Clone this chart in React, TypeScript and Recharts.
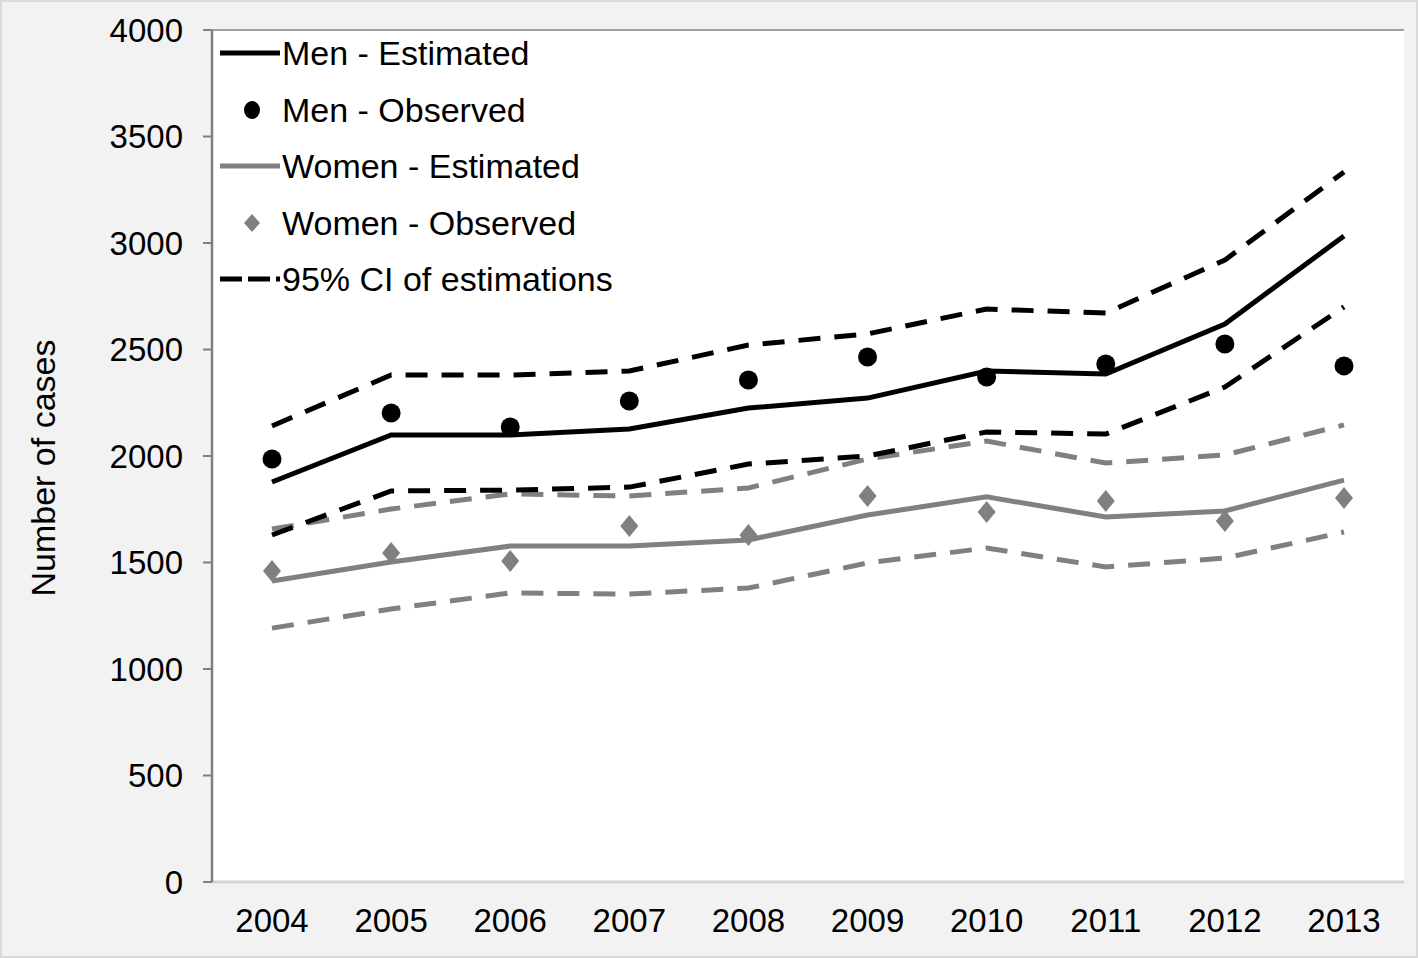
import React from "react";
import {
  CartesianGrid,
  Label,
  Legend,
  Line,
  LineChart,
  ReferenceLine,
  XAxis,
  YAxis
} from "recharts";

const FONT = '"Liberation Sans", Arial, sans-serif';

const years = ["2004", "2005", "2006", "2007", "2008", "2009", "2010", "2011", "2012", "2013"];
const menEstimated = [1878, 2099, 2099, 2127, 2225, 2272, 2399, 2385, 2620, 3033];
const menObserved = [1986, 2202, 2136, 2258, 2357, 2465, 2371, 2432, 2526, 2423];
const menUpper = [2141, 2380, 2380, 2399, 2521, 2573, 2690, 2671, 2920, 3333];
const menLower = [1629, 1836, 1840, 1854, 1962, 2000, 2113, 2103, 2324, 2700];
const womenEstimated = [1413, 1502, 1577, 1577, 1606, 1723, 1808, 1714, 1742, 1887];
const womenObserved = [1460, 1545, 1507, 1671, 1629, 1812, 1737, 1789, 1695, 1803];
const womenUpper = [1657, 1751, 1822, 1812, 1850, 1986, 2070, 1967, 2005, 2146];
const womenLower = [1192, 1282, 1357, 1352, 1380, 1498, 1568, 1479, 1521, 1643];
const yTicks = [0, 500, 1000, 1500, 2000, 2500, 3000, 3500, 4000];

const legendItems = [
  { label: "Men - Estimated", kind: "line", color: "#000" },
  { label: "Men - Observed", kind: "dot", color: "#000" },
  { label: "Women - Estimated", kind: "line", color: "#808080" },
  { label: "Women - Observed", kind: "diamond", color: "#808080" },
  { label: "95% CI of estimations", kind: "dash", color: "#000" }
];

const rows = years.map((year, i) => ({
  year,
  menEst: menEstimated[i],
  menObs: menObserved[i],
  menUp: menUpper[i],
  menLo: menLower[i],
  womenEst: womenEstimated[i],
  womenObs: womenObserved[i],
  womenUp: womenUpper[i],
  womenLo: womenLower[i]
}));

const DiamondDot = (props: any) => {
  const { cx, cy } = props;
  if (cx == null || cy == null) return null;
  return (
    <polygon
      points={`${cx},${cy - 11} ${cx + 9},${cy} ${cx},${cy + 11} ${cx - 9},${cy}`}
      fill="#808080"
    />
  );
};

const LegendIcon = ({ kind, color }: { kind: string; color: string }) => (
  <svg width={62} height={24} style={{ flex: "none" }}>
    {kind === "line" && <line x1={0} y1={12} x2={60} y2={12} stroke={color} strokeWidth={5} />}
    {kind === "dash" && (
      <line x1={0} y1={12} x2={60} y2={12} stroke={color} strokeWidth={5} strokeDasharray="22 6" />
    )}
    {kind === "dot" && <ellipse cx={32} cy={12} rx={8} ry={9} fill={color} />}
    {kind === "diamond" && <polygon points="32,3 40,12 32,21 24,12" fill={color} />}
  </svg>
);

const renderLegend = () => (
  <div style={{ fontFamily: FONT }}>
    {legendItems.map((item) => (
      <div key={item.label} style={{ display: "flex", alignItems: "center", height: 56.5 }}>
        <LegendIcon kind={item.kind} color={item.color} />
        <span style={{ fontSize: 34, lineHeight: 1, color: "#000", whiteSpace: "nowrap" }}>
          {item.label}
        </span>
      </div>
    ))}
  </div>
);

const YTitle = (props: any) => {
  const { viewBox } = props;
  const cy = viewBox.y + viewBox.height / 2 + 12;
  return (
    <text
      x={55}
      y={cy}
      transform={`rotate(-90, 55, ${cy})`}
      textAnchor="middle"
      fontSize={34}
      fontFamily={FONT}
      fill="#000"
    >
      Number of cases
    </text>
  );
};

const App = () => (
  <div
    style={{
      position: "absolute",
      left: 0,
      top: 0,
      width: 1418,
      height: 958,
      background: "#f2f2f2",
      boxShadow: "inset 0 0 0 2px #dadada"
    }}
  >
    <LineChart width={1418} height={958} data={rows} margin={{ top: 30, right: 14, bottom: 0, left: 0 }}>
      <CartesianGrid horizontal={false} vertical={false} fill="#ffffff" />
      <XAxis
        dataKey="year"
        padding={{ left: 60, right: 60 }}
        interval={0}
        height={76}
        tickLine={false}
        tickSize={0}
        tickMargin={27}
        axisLine={{ stroke: "#d4d4d4", strokeWidth: 3 }}
        tick={{ fill: "#000", fontSize: 33, fontFamily: FONT }}
      />
      <YAxis
        domain={[0, 4000]}
        ticks={yTicks}
        width={212}
        tickSize={9}
        tickMargin={20}
        axisLine={{ stroke: "#808080", strokeWidth: 2.5 }}
        tickLine={{ stroke: "#808080", strokeWidth: 2 }}
        tick={{ fill: "#000", fontSize: 33, fontFamily: FONT }}
      >
        <Label content={<YTitle />} />
      </YAxis>
      <YAxis
        yAxisId="frame"
        orientation="right"
        width={0}
        tick={false}
        tickLine={false}
        axisLine={{ stroke: "#8a8a8a", strokeWidth: 2.5 }}
      />
      <ReferenceLine y={4000} stroke="#a0a0a0" strokeWidth={2} />
      <Legend
        content={renderLegend}
        layout="vertical"
        align="center"
        verticalAlign="middle"
        wrapperStyle={{ left: 220, top: 25, width: "auto" }}
      />

      <Line dataKey="womenUp" stroke="#808080" strokeWidth={5} strokeDasharray="22 14" dot={false} isAnimationActive={false} />
      <Line dataKey="womenLo" stroke="#808080" strokeWidth={5} strokeDasharray="22 14" dot={false} isAnimationActive={false} />
      <Line dataKey="womenEst" stroke="#808080" strokeWidth={5} dot={false} isAnimationActive={false} />
      <Line dataKey="womenObs" stroke="none" dot={<DiamondDot />} activeDot={false} isAnimationActive={false} />

      <Line dataKey="menUp" stroke="#000" strokeWidth={5} strokeDasharray="22 14" dot={false} isAnimationActive={false} />
      <Line dataKey="menLo" stroke="#000" strokeWidth={5} strokeDasharray="22 14" dot={false} isAnimationActive={false} />
      <Line dataKey="menEst" stroke="#000" strokeWidth={5} dot={false} isAnimationActive={false} />
      <Line
        dataKey="menObs"
        stroke="none"
        dot={{ r: 9.5, fill: "#000", stroke: "none" }}
        activeDot={false}
        isAnimationActive={false}
      />
    </LineChart>
  </div>
);

export default App;
